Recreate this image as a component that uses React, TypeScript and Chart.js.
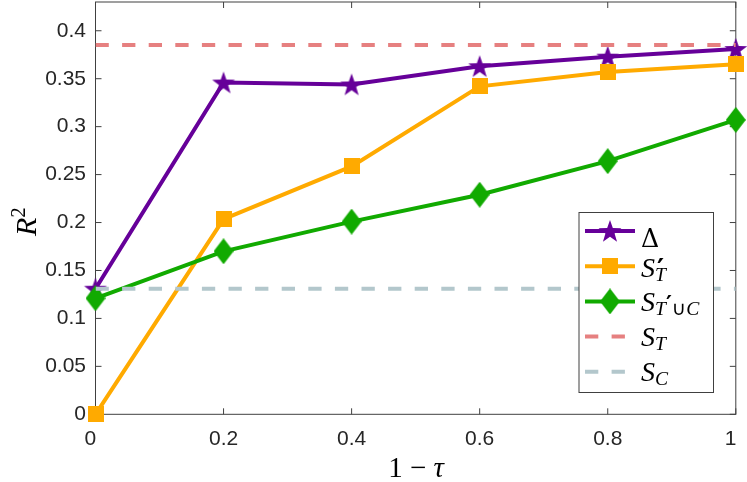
import React, { useEffect, useRef } from "react";
import { Chart, registerables } from "chart.js";

Chart.register(...registerables);

// values
const xValues = [0, 0.2, 0.4, 0.6, 0.8, 1];
const deltaValues = [0.131, 0.346, 0.344, 0.363, 0.373, 0.381];
const sPrimeValues = [0, 0.2035, 0.2585, 0.342, 0.357, 0.365];
const sUnionValues = [0.121, 0.17, 0.201, 0.229, 0.264, 0.307];
const sTLevel = 0.3852;
const sCLevel = 0.131;
const xTicks = [0, 0.2, 0.4, 0.6, 0.8, 1];
const yTicks = [0, 0.05, 0.1, 0.15, 0.2, 0.25, 0.3, 0.35, 0.4];

const PURPLE = "#660099";
const ORANGE = "#FFAA00";
const GREEN = "#11AA00";
const RED = "#E68080";
const GREY = "#B3C7CC";
const AXIS = "#404040";
const SERIF = '"Liberation Serif", "DejaVu Serif", serif';
const SANS = '"Liberation Sans", Arial, sans-serif';
const PRIME_FONT = '"DejaVu Sans", sans-serif';

type Seg = { t: string; italic?: boolean; bold?: boolean; pos?: "sub" | "sup"; font?: string; scale?: number; dy?: number };

// S with subscript/superscript pieces
const legendLabels: Seg[][] = [
  [{ t: "\u0394", font: '"DejaVu Serif", serif', scale: 0.9 }],
  [{ t: "S", italic: true }, { t: "T", italic: true, pos: "sub" }],
  [
    { t: "S", italic: true },
    { t: "T", italic: true, pos: "sub" },
    { t: "\u2032", pos: "sub", bold: true, font: PRIME_FONT, scale: 1.15, dy: -3 },
    { t: "\u222A", pos: "sub", font: PRIME_FONT },
    { t: "C", italic: true, pos: "sub" },
  ],
  [{ t: "S", italic: true }, { t: "T", italic: true, pos: "sub" }],
  [{ t: "S", italic: true }, { t: "C", italic: true, pos: "sub" }],
];

function makeMarker(kind: string, color: string) {
  const c = document.createElement("canvas");
  const w = kind === "star" ? 26 : kind === "square" ? 16 : 20;
  const h = kind === "star" ? 26 : kind === "square" ? 16 : 26;
  c.width = w;
  c.height = h;
  const ctx = c.getContext("2d")!;
  ctx.fillStyle = color;
  ctx.beginPath();
  if (kind === "star") {
    const R = 12;
    const r = R * 0.4;
    for (let i = 0; i < 10; i++) {
      const a = -Math.PI / 2 + (i * Math.PI) / 5;
      const rad = i % 2 === 0 ? R : r;
      const px = w / 2 + rad * Math.cos(a);
      const py = h / 2 + 1 + rad * Math.sin(a);
      if (i === 0) ctx.moveTo(px, py);
      else ctx.lineTo(px, py);
    }
  } else if (kind === "square") {
    ctx.rect(0, 0, w, h);
  } else {
    ctx.moveTo(w / 2, 0);
    ctx.lineTo(w, h / 2);
    ctx.lineTo(w / 2, h);
    ctx.lineTo(0, h / 2);
  }
  ctx.closePath();
  ctx.fill();
  return c;
}

function drawRich(ctx: CanvasRenderingContext2D, x: number, y: number, segs: Seg[], size: number, draw = true) {
  let cx = x;
  segs.forEach((s) => {
    const fs = (s.pos ? size * 0.7 : size) * (s.scale || 1);
    ctx.font = `${s.italic ? "italic " : ""}${s.bold ? "bold " : ""}${fs}px ${s.font || SERIF}`;
    const dy = (s.pos === "sub" ? size * 0.16 : s.pos === "sup" ? -size * 0.38 : 0) + (s.dy || 0);
    if (draw) ctx.fillText(s.t, cx, y + dy);
    cx += ctx.measureText(s.t).width;
  });
  return cx - x;
}

const App: React.FC = () => {
  const canvasRef = useRef<HTMLCanvasElement | null>(null);
  const chartRef = useRef<Chart | null>(null);

  useEffect(() => {
    if (chartRef.current) chartRef.current.destroy();
    if (!canvasRef.current) return;

    const star = makeMarker("star", PURPLE);
    const square = makeMarker("square", ORANGE);
    const diamond = makeMarker("diamond", GREEN);

    const pts = (ys: number[]) => xValues.map((x, i) => ({ x, y: ys[i] }));
    const flat = (v: number) => [{ x: 0, y: v }, { x: 1, y: v }];

    const legendEntries = [
      { color: PURPLE, marker: star, dash: false, off: 16 },
      { color: ORANGE, marker: square, dash: false, off: 10.5, prime: true },
      { color: GREEN, marker: diamond, dash: false, off: 9.5 },
      { color: RED, marker: null, dash: true, off: 9.4 },
      { color: GREY, marker: null, dash: true, off: 9 },
    ];

    const framePlugin = {
      id: "frame",
      beforeDatasetsDraw(chart: any) {
        const { ctx, chartArea: a, scales } = chart;
        const tick = 6;
        ctx.save();
        ctx.strokeStyle = AXIS;
        ctx.lineWidth = 1;
        ctx.strokeRect(a.left, a.top, a.right - a.left, a.bottom - a.top);
        ctx.beginPath();
        xTicks.forEach((v) => {
          const px = scales.x.getPixelForValue(v);
          ctx.moveTo(px, a.bottom);
          ctx.lineTo(px, a.bottom - tick);
          ctx.moveTo(px, a.top);
          ctx.lineTo(px, a.top + tick);
        });
        yTicks.forEach((v) => {
          const py = scales.y.getPixelForValue(v);
          ctx.moveTo(a.left, py);
          ctx.lineTo(a.left + tick, py);
          ctx.moveTo(a.right, py);
          ctx.lineTo(a.right - tick, py);
        });
        ctx.stroke();

        // axis titles
        ctx.fillStyle = "#000";
        ctx.textBaseline = "alphabetic";
        ctx.textAlign = "left";
        const xt: Seg[] = [{ t: "1 \u2212 " }, { t: "\u03C4", italic: true }];
        const xw = drawRich(ctx, 0, 0, xt, 29, false);
        drawRich(ctx, 416 - xw / 2, 476.5, xt, 29);

        ctx.translate(36, 236);
        ctx.rotate(-Math.PI / 2);
        drawRich(ctx, 0, 0, [{ t: "R", italic: true }, { t: "2", pos: "sup" }], 30);
        ctx.restore();
      },
      afterDraw(chart: any) {
        const { ctx } = chart;
        ctx.save();
        const bx = 579, by = 212.5, bw = 134.5, bh = 180;
        ctx.fillStyle = "#fff";
        ctx.fillRect(bx, by, bw, bh);
        ctx.strokeStyle = AXIS;
        ctx.lineWidth = 1;
        ctx.strokeRect(bx, by, bw, bh);
        legendEntries.forEach((e, i) => {
          const cy = 231 + i * 35.2;
          ctx.strokeStyle = e.color;
          ctx.lineWidth = 4;
          ctx.setLineDash(e.dash ? [13.3, 13.3] : []);
          ctx.beginPath();
          ctx.moveTo(585, cy);
          ctx.lineTo(635, cy);
          ctx.stroke();
          ctx.setLineDash([]);
          if (e.marker) ctx.drawImage(e.marker, 610 - e.marker.width / 2, cy - e.marker.height / 2);
          ctx.fillStyle = "#000";
          ctx.textAlign = "left";
          ctx.textBaseline = "alphabetic";
          drawRich(ctx, 641, cy + e.off, legendLabels[i], 28);
          if (e.prime) {
            ctx.font = `bold 27px ${PRIME_FONT}`;
            ctx.fillText("\u2032", 657, cy + e.off + 1);
          }
        });
        ctx.restore();
      },
    };

    const lineDs = (label: string, ys: number[], color: string, marker: HTMLCanvasElement, order: number) => ({
      label,
      data: pts(ys),
      borderColor: color,
      backgroundColor: color,
      borderWidth: 4,
      pointStyle: marker,
      pointRadius: 8,
      clip: false,
      order,
    });

    chartRef.current = new Chart(canvasRef.current, {
      type: "line",
      data: {
        datasets: [
          lineDs("\u0394", deltaValues, PURPLE, star, 4),
          lineDs("S'T", sPrimeValues, ORANGE, square, 3),
          lineDs("ST'uC", sUnionValues, GREEN, diamond, 2),
          {
            label: "ST",
            data: flat(sTLevel),
            borderColor: RED,
            borderWidth: 4,
            borderDash: [13.3, 13.3],
            pointRadius: 0,
            order: 1,
          },
          {
            label: "SC",
            data: flat(sCLevel),
            borderColor: GREY,
            borderWidth: 4,
            borderDash: [13.3, 13.3],
            pointRadius: 0,
            order: 0,
          },
        ],
      },
      options: {
        animation: false,
        responsive: false,
        layout: { autoPadding: false, padding: { top: 2, right: 11.2, left: 0, bottom: 0 } },
        plugins: { legend: { display: false }, tooltip: { enabled: false } },
        elements: { line: { tension: 0 } },
        scales: {
          x: {
            type: "linear",
            min: 0,
            max: 1,
            grid: { display: false, drawTicks: false },
            border: { display: false },
            afterBuildTicks: (s: any) => {
              s.ticks = xTicks.map((value) => ({ value }));
            },
            afterFit: (s: any) => {
              s.height = 67.7;
              s.paddingLeft = 0;
              s.paddingRight = 0;
            },
            ticks: {
              padding: 12,
              color: "#262626",
              font: { family: SANS, size: 21 },
              maxRotation: 0,
              // end labels sit slightly left of their ticks in the reference
              callback: (v: any) => (v === 0 || v === 1 ? `${v}\u2002` : String(v)),
            },
          },
          y: {
            type: "linear",
            min: 0,
            max: 0.43,
            grid: { display: false, drawTicks: false },
            border: { display: false },
            afterBuildTicks: (s: any) => {
              s.ticks = yTicks.map((value) => ({ value }));
            },
            afterFit: (s: any) => {
              s.width = 95.5;
              s.paddingTop = 0;
              s.paddingBottom = 0;
            },
            ticks: {
              padding: 9.5,
              color: "#262626",
              font: { family: SANS, size: 21 },
              callback: (v: any) => String(v),
            },
          },
        },
      },
      plugins: [framePlugin],
    } as any);

    return () => {
      if (chartRef.current) {
        chartRef.current.destroy();
        chartRef.current = null;
      }
    };
  }, []);

  return (
    <div style={{ position: "absolute", left: 0, top: 0, width: 747, height: 482, background: "#fff" }}>
      <canvas ref={canvasRef} width={747} height={482} style={{ width: 747, height: 482 }} />
    </div>
  );
};

export default App;
